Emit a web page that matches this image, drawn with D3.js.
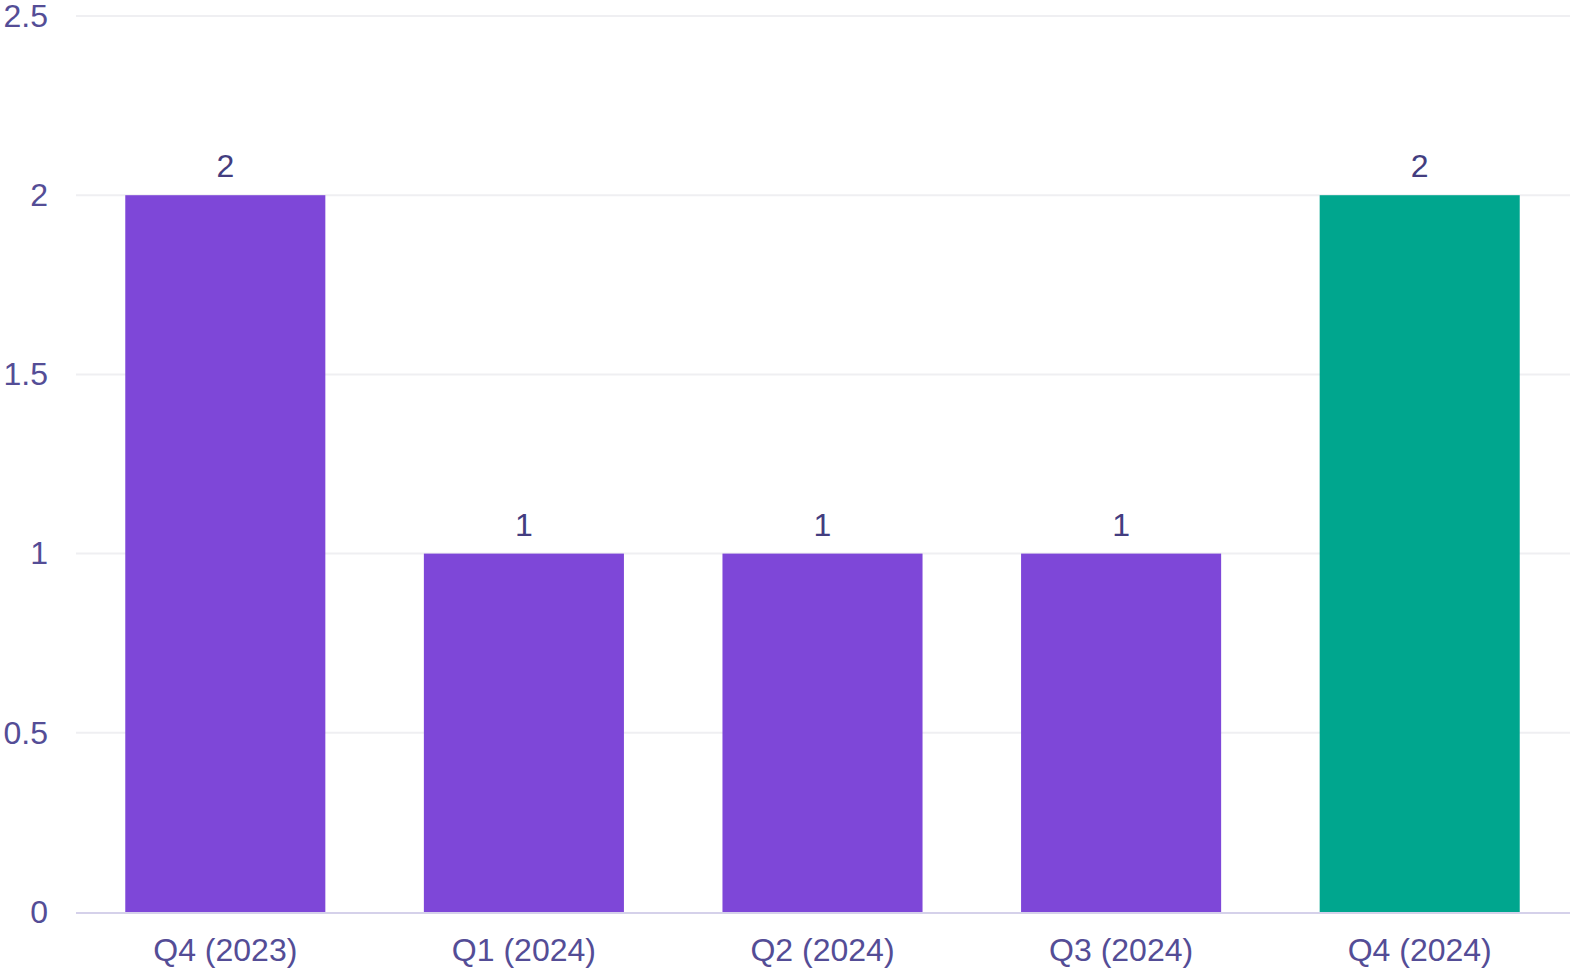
<!DOCTYPE html>
<html>
<head>
<meta charset="utf-8">
<script src="https://cdn.jsdelivr.net/npm/d3@7"></script>
<style>
  html, body { margin: 0; padding: 0; background: #ffffff; }
  svg { display: block; font-family: "Liberation Sans", Arial, sans-serif; }
</style>
</head>
<body>
<svg id="chart" width="1570" height="968"></svg>
<script>
// Quarterly counts
const categories = ["Q4 (2023)", "Q1 (2024)", "Q2 (2024)", "Q3 (2024)", "Q4 (2024)"];
const values = [2, 1, 1, 1, 2];
const yTicks = [0, 0.5, 1, 1.5, 2, 2.5];
const highlightIndex = 4;

const svg = d3.select("#chart");
const margin = { left: 76, right: 1, top: 16, bottom: 56 };
const W = 1570, H = 968;

const x = d3.scaleBand()
  .domain(categories)
  .range([margin.left, W - margin.right])
  .paddingInner(0.33)
  .paddingOuter(0.165);

const y = d3.scaleLinear()
  .domain([0, 2.5])
  .range([H - margin.bottom, margin.top]);

// Horizontal grid lines
svg.append("g")
  .selectAll("line")
  .data(yTicks.filter(d => d > 0))
  .join("line")
  .attr("x1", margin.left)
  .attr("x2", W)
  .attr("y1", d => y(d))
  .attr("y2", d => y(d))
  .attr("stroke", "#efeff2")
  .attr("stroke-width", 2);

// Y axis labels
const yAxis = d3.axisLeft(y).tickValues(yTicks).tickSize(0).tickPadding(0)
  .tickFormat(d3.format("~g"));
const gy = svg.append("g")
  .attr("transform", `translate(${margin.left - 28},0)`)
  .call(yAxis);
gy.select(".domain").remove();
gy.selectAll("text")
  .attr("fill", "#544d96")
  .style("font-size", "32px")
  .style("font-family", "'Liberation Sans', Arial, sans-serif");

// Bars
svg.append("g")
  .selectAll("rect")
  .data(values)
  .join("rect")
  .attr("x", (d, i) => x(categories[i]))
  .attr("width", x.bandwidth())
  .attr("y", d => y(d))
  .attr("height", d => y(0) - y(d))
  .attr("fill", (d, i) => i === highlightIndex ? "#00a68e" : "#7e47d8");

// Value labels
svg.append("g")
  .selectAll("text")
  .data(values)
  .join("text")
  .attr("x", (d, i) => x(categories[i]) + x.bandwidth() / 2)
  .attr("y", d => y(d) - 18)
  .attr("text-anchor", "middle")
  .attr("fill", "#433d80")
  .style("font-size", "32px")
  .text(d => d);

// X axis baseline and labels
const xAxis = d3.axisBottom(x).tickSize(0).tickPadding(0);
const gx = svg.append("g")
  .attr("transform", `translate(0,${y(0) + 1})`)
  .call(xAxis);
gx.select(".domain")
  .attr("stroke", "#d5d1ea")
  .attr("stroke-width", 2)
  .attr("d", `M${margin.left},0H${W}`);
gx.selectAll("text")
  .attr("fill", "#544d96")
  .attr("dy", 0)
  .attr("y", 48)
  .style("font-size", "32px")
  .style("font-family", "'Liberation Sans', Arial, sans-serif");
</script>
</body>
</html>
